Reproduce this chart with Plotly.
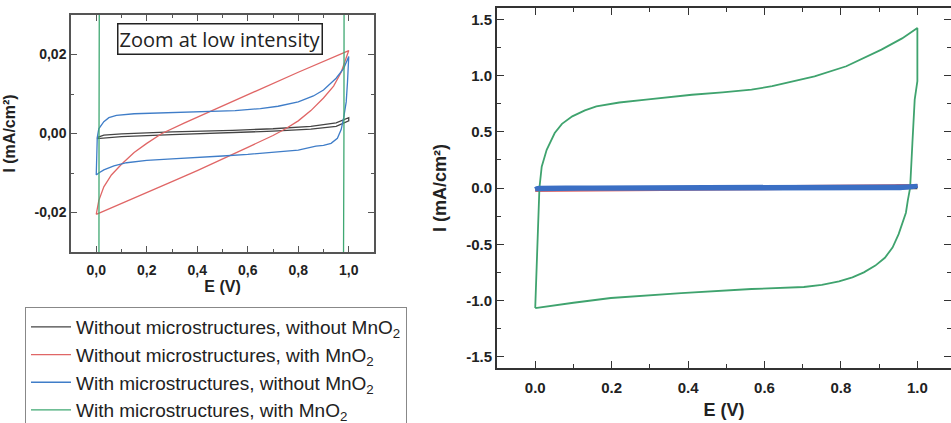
import plotly.graph_objects as go

# ---------------- data (E in V, I in mA/cm²) ----------------
series_names = [
    "Without microstructures, without MnO<sub>2</sub>",
    "Without microstructures, with MnO<sub>2</sub>",
    "With microstructures, without MnO<sub>2</sub>",
    "With microstructures, with MnO<sub>2</sub>",
]
series_colors = ["#454545", "#e06666", "#3f7dc8", "#3fa872"]

e_black = [0.005, 0.03, 0.10, 0.30, 0.54, 0.70, 0.85, 0.95, 1.00,
           1.00, 0.95, 0.85, 0.70, 0.54, 0.30, 0.10, 0.03, 0.005, 0.005]
i_black = [-0.0010, -0.0004, -0.0001, 0.0004, 0.0008, 0.0012, 0.0018, 0.0027, 0.0040,
           0.0032, 0.0018, 0.0011, 0.0006, 0.0003, -0.0003, -0.0008, -0.0011, -0.0013, -0.0010]

e_red = [0.00, 0.01, 0.03, 0.06, 0.10, 0.15, 0.20, 0.26, 0.35, 0.44, 0.60, 0.80, 1.00,
         0.97, 0.94, 0.90, 0.85, 0.80, 0.75, 0.70, 0.60, 0.50, 0.40, 0.30, 0.20, 0.10, 0.00]
i_red = [-0.0205, -0.0170, -0.0135, -0.0105, -0.0078, -0.0048, -0.0025, 0.0000, 0.0027, 0.0053,
         0.0098, 0.0155, 0.0210,
         0.0155, 0.0120, 0.0090, 0.0058, 0.0032, 0.0012, -0.0005, -0.0035, -0.0065, -0.0094,
         -0.0122, -0.0150, -0.0178, -0.0205]

e_blue = [0.000, 0.002, 0.004, 0.010, 0.020, 0.030, 0.050, 0.080, 0.150, 0.300, 0.450, 0.550,
          0.650, 0.720, 0.800, 0.860, 0.900, 0.950, 0.980, 1.000,
          0.995, 0.990, 0.980, 0.970, 0.955, 0.930, 0.900, 0.870, 0.800, 0.700, 0.600, 0.500,
          0.400, 0.300, 0.200, 0.120, 0.070, 0.030, 0.010, 0.000]
i_blue = [-0.0105, -0.0060, -0.0010, 0.0012, 0.0022, 0.0030, 0.0040, 0.0046, 0.0050, 0.0053,
          0.0055, 0.0058, 0.0063, 0.0069, 0.0080, 0.0095, 0.0110, 0.0140, 0.0165, 0.0195,
          0.0130, 0.0080, 0.0040, 0.0010, -0.0012, -0.0025, -0.0030, -0.0032, -0.0042, -0.0048,
          -0.0053, -0.0057, -0.0060, -0.0064, -0.0068, -0.0074, -0.0082, -0.0092, -0.0100, -0.0105]

e_green = [0.000, 0.011, 0.017, 0.030, 0.051, 0.070, 0.097, 0.130, 0.160, 0.220, 0.290, 0.350,
           0.410, 0.490, 0.566, 0.620, 0.657, 0.731, 0.814, 0.906, 0.960, 1.000,
           1.000, 0.993, 0.987, 0.981, 0.975, 0.970, 0.951, 0.935, 0.915, 0.890, 0.860, 0.830,
           0.795, 0.750, 0.703, 0.640, 0.566, 0.382, 0.198, 0.100, 0.000]
i_green = [-1.067, 0.000, 0.190, 0.340, 0.489, 0.570, 0.637, 0.690, 0.726, 0.760, 0.785, 0.808,
           0.829, 0.850, 0.874, 0.905, 0.934, 0.993, 1.082, 1.230, 1.330, 1.423,
           0.950, 0.785, 0.400, 0.000, -0.110, -0.220, -0.410, -0.530, -0.620, -0.690, -0.750,
           -0.795, -0.830, -0.862, -0.880, -0.888, -0.898, -0.934, -0.978, -1.020, -1.067]

x_ticks = [0.0, 0.2, 0.4, 0.6, 0.8, 1.0]
x_ticktext_left = ["0,0", "0,2", "0,4", "0,6", "0,8", "1,0"]
y_ticks_left = [-0.02, 0.0, 0.02]
y_ticktext_left = ["-0,02", "0,00", "0,02"]
x_ticktext_right = ["0.0", "0.2", "0.4", "0.6", "0.8", "1.0"]
y_ticks_right = [-1.5, -1.0, -0.5, 0.0, 0.5, 1.0, 1.5]
y_ticktext_right = ["-1.5", "-1.0", "-0.5", "0.0", "0.5", "1.0", "1.5"]

all_e = [e_black, e_red, e_blue, e_green]
all_i = [i_black, i_red, i_blue, i_green]

# ---------------- figure ----------------
W, H = 951, 423
fig = go.Figure()

# left (zoom) panel
for k in range(4):
    fig.add_trace(go.Scatter(
        x=all_e[k], y=all_i[k], mode="lines", name=series_names[k],
        line=dict(color=series_colors[k], width=1.3),
        xaxis="x", yaxis="y", showlegend=True,
    ))

# right panel: black, red, green, then thick blue on top
right_order = [0, 1, 3, 2]
right_widths = {0: 3.5, 1: 3.5, 2: 4.0, 3: 1.8}
right_colors = {0: "#454545", 1: "#e06666", 2: "#3b6fc4", 3: "#3fa36e"}
for k in right_order:
    fig.add_trace(go.Scatter(
        x=all_e[k], y=all_i[k], mode="lines", name=series_names[k],
        line=dict(color=right_colors[k], width=right_widths[k]),
        xaxis="x2", yaxis="y2", showlegend=False,
    ))

def px_x(p):
    return p / W

def px_y(p):
    return 1 - p / H

FAM = "Liberation Sans, Arial, sans-serif"
tick_font = dict(family=FAM, size=14, color="#222", weight="bold")
title_font = dict(family=FAM, size=16, color="#222", weight="bold")
tick_font_r = dict(family=FAM, size=15, color="#222", weight="bold")
title_font_r = dict(family=FAM, size=18, color="#222", weight="bold")

fig.update_layout(
    width=W, height=H,
    margin=dict(l=0, r=0, t=0, b=0, autoexpand=False),
    paper_bgcolor="white", plot_bgcolor="white",
    xaxis=dict(
        domain=[px_x(71), px_x(374)], range=[-0.1, 1.1], anchor="y",
        tickmode="array", tickvals=x_ticks, ticktext=x_ticktext_left,
        ticks="inside", ticklen=6, tickwidth=1.2, tickcolor="#555",
        minor=dict(tickvals=[0.1, 0.3, 0.5, 0.7, 0.9], ticks="inside", ticklen=3, tickcolor="#555"),
        showline=True, linecolor="#555", linewidth=1.5, mirror="ticks",
        showgrid=False, zeroline=False, tickfont=tick_font, ticklabelstandoff=4,
        title=dict(text="E (V)", font=title_font, standoff=4),
    ),
    yaxis=dict(
        domain=[px_y(252), px_y(15)], range=[-0.03, 0.03], anchor="x",
        tickmode="array", tickvals=y_ticks_left, ticktext=y_ticktext_left,
        ticks="inside", ticklen=6, tickwidth=1.2, tickcolor="#555",
        minor=dict(tickvals=[-0.01, 0.01], ticks="inside", ticklen=3, tickcolor="#555"),
        showline=True, linecolor="#555", linewidth=1.5, mirror="ticks",
        showgrid=False, zeroline=False, tickfont=tick_font,
        title=dict(text="I (mA/cm²)", font=title_font),
    ),
    xaxis2=dict(
        domain=[px_x(497), 1.0], range=[-0.1, 1.088], anchor="y2",
        tickmode="array", tickvals=x_ticks, ticktext=x_ticktext_right,
        ticks="inside", ticklen=7, tickwidth=1.3, tickcolor="#333",
        minor=dict(tickvals=[0.1, 0.3, 0.5, 0.7, 0.9], ticks="inside", ticklen=4, tickcolor="#333"),
        showline=True, linecolor="#333", linewidth=2, mirror="ticks",
        showgrid=False, zeroline=False, tickfont=tick_font_r, ticklabelstandoff=5,
        title=dict(text="E (V)", font=title_font_r, standoff=8),
    ),
    yaxis2=dict(
        domain=[px_y(368), px_y(8)], range=[-1.6, 1.6], anchor="x2",
        tickmode="array", tickvals=y_ticks_right, ticktext=y_ticktext_right,
        ticks="inside", ticklen=7, tickwidth=1.3, tickcolor="#333",
        minor=dict(tickvals=[-1.25, -0.75, -0.25, 0.25, 0.75, 1.25], ticks="inside", ticklen=4,
                   tickcolor="#333"),
        showline=True, linecolor="#333", linewidth=2, mirror="ticks",
        showgrid=False, zeroline=False, tickfont=tick_font_r,
        title=dict(text="I (mA/cm²)", font=title_font_r),
    ),
    legend=dict(
        x=px_x(25), y=px_y(307), xanchor="left", yanchor="top",
        bgcolor="white", bordercolor="#888", borderwidth=1,
        font=dict(family=FAM, size=19, color="#222"),
        tracegroupgap=0, itemwidth=40,
    ),
    annotations=[dict(
        x=0.5 * (px_x(112) + px_x(327)), y=0.5 * (px_y(23) + px_y(55)),
        xref="paper", yref="paper", xanchor="center", yanchor="middle", showarrow=False,
        text="Zoom at low intensity",
        font=dict(family="Open Sans, sans-serif", size=20, color="#222"),
        bordercolor="#222", borderwidth=1.5, borderpad=1, bgcolor="white",
    )],
)

fig.write_html(
    "out.html",
    config={"displayModeBar": False},
    post_script="document.documentElement.style.margin='0';document.body.style.margin='0';"
                "document.body.style.overflow='hidden';",
)
